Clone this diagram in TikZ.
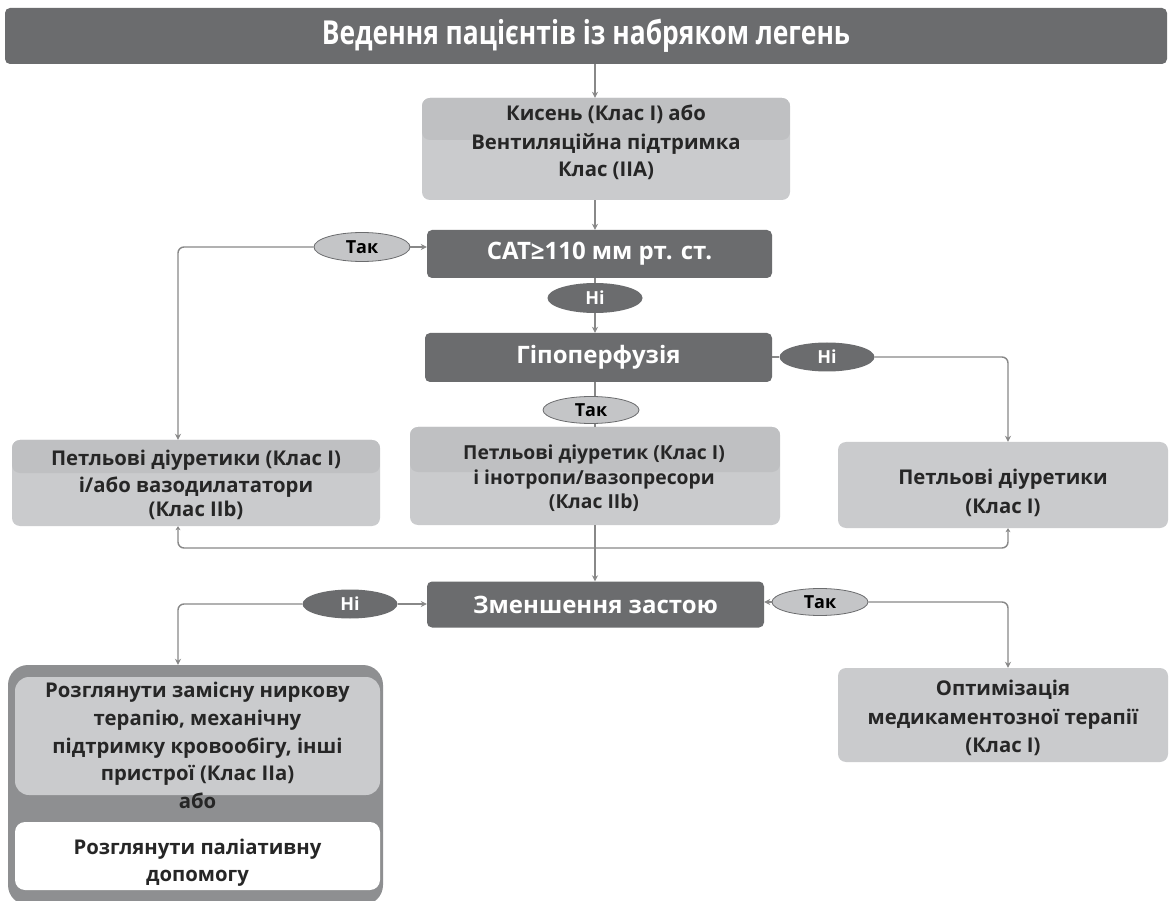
\documentclass[tikz,border=0pt]{standalone}
\usepackage{fontspec}
\setmainfont{Open Sans}
\newfontfamily\titlefont[FakeStretch=0.8]{Open Sans}
\usetikzlibrary{shapes.geometric,arrows.meta,calc}
\definecolor{dkgray}{HTML}{6B6C6E}
\definecolor{ltgray}{HTML}{CACBCD}
\definecolor{topgray}{HTML}{BFC0C2}
\definecolor{midgray}{HTML}{8E8F91}
\definecolor{elgray}{HTML}{C4C5C7}
\definecolor{lngray}{HTML}{888888}
\tikzset{
  darkbox/.style={rectangle, rounded corners=5pt, fill=dkgray, text=white,
    font=\bfseries\fontsize{24}{28}\selectfont, inner sep=0pt},
  lightbox/.style={rectangle, rounded corners=8pt, fill=ltgray, inner sep=0pt},
  topband/.style={path picture={\fill[topgray] (path picture bounding box.north west) rectangle ([yshift=-#1]path picture bounding box.north east);}},
  txt/.style={anchor=base, inner sep=0pt, font=\bfseries\fontsize{20.3}{24}\selectfont, text=black!85},
  yesell/.style={ellipse, fill=elgray, draw=dkgray, line width=0.8pt, minimum width=96pt,
    minimum height=29pt, font=\bfseries\fontsize{18}{20}\selectfont, inner sep=0pt},
  noell/.style={ellipse, fill=dkgray, text=white, minimum width=95pt,
    minimum height=29pt, font=\bfseries\fontsize{18}{20}\selectfont, inner sep=0pt},
  conn/.style={draw=lngray, line width=1.4pt, rounded corners=6pt},
  arr/.style={conn, -{Stealth[length=6pt,width=6pt]}},
  backarr/.style={conn, {Stealth[length=4pt,width=5pt]}-},
}
\begin{document}
\begin{tikzpicture}[x=1pt,y=-1pt]
\useasboundingbox[fill=white] (0,0) rectangle (1171,901);
% title
\node[darkbox, minimum width=1162pt, minimum height=56pt, font=\titlefont\bfseries\fontsize{33}{36}\selectfont] (title) at (586,36) {Ведення пацієнтів із набряком легень};
% oxygen box
\node[lightbox, topband=42pt, minimum width=368pt, minimum height=102pt] (box1) at (606,149) {};
\node[txt] (b1a) at (606,121) {Кисень (Клас І) або};
\node[txt] (b1b) at (606,150) {Вентиляційна підтримка};
\node[txt] (b1c) at (606,177) {Клас (IIА)};
% decision boxes and ellipses
\node[darkbox, minimum width=345pt, minimum height=48pt] (cat) at (599.5,254) {САТ≥110 мм рт. ст.};
\node[yesell] (e1) at (362,247) {Так};
\node[noell, minimum height=30pt] (n1) at (595,298) {Ні};
\node[darkbox, minimum width=347pt, minimum height=49pt] (hyp) at (598.5,357.5) {Гіпоперфузія};
\node[noell] (n2) at (827,357) {Ні};
\node[yesell, minimum height=27pt] (t2) at (591,410) {Так};
% treatment boxes
\node[lightbox, topband=33pt, minimum width=368pt, minimum height=86pt] (bl) at (196,483) {};
\node[txt] (bla) at (196,465) {Петльові діуретики (Клас І)};
\node[txt] (blb) at (196,492) {і/або вазодилататори};
\node[txt] (blc) at (196,516) {(Клас IIb)};
\node[lightbox, topband=45pt, minimum width=370pt, minimum height=98pt] (bm) at (595,476) {};
\node[txt, font=\bfseries\fontsize{19.3}{24}\selectfont] (bma) at (594,460) {Петльові діуретик (Клас І)};
\node[txt, font=\bfseries\fontsize{19.3}{24}\selectfont] (bmb) at (594,485) {і інотропи/вазопресори};
\node[txt, font=\bfseries\fontsize{19.3}{24}\selectfont] (bmc) at (594,508) {(Клас IIb)};
\node[lightbox, minimum width=330pt, minimum height=86pt] (br) at (1003,485) {};
\node[txt] (bra) at (1003,484) {Петльові діуретики};
\node[txt] (brb) at (1003,513) {(Клас І)};
% congestion decision
\node[darkbox, minimum width=337pt, minimum height=46pt] (red) at (595.5,604.5) {Зменшення застою};
\node[noell] (n3) at (350,604) {Ні};
\node[yesell, minimum height=27pt] (t3) at (820,602) {Так};
% bottom-left composite box
\node[rectangle, rounded corners=20pt, fill=midgray, minimum width=375pt, minimum height=240pt, inner sep=0pt] (outer) at (195.5,785) {};
\node[lightbox, rounded corners=14pt, minimum width=365pt, minimum height=118pt] (in1) at (197.5,736) {};
\node[txt] (in1a) at (197.5,697) {Розглянути замісну ниркову};
\node[txt] (in1b) at (197.5,725) {терапію, механічну};
\node[txt] (in1c) at (197.5,753) {підтримку кровообігу, інші};
\node[txt] (in1d) at (197.5,780) {пристрої (Клас IIa)};
\node[txt] (abo) at (197.5,808) {або};
\node[lightbox, fill=white, rounded corners=10pt, minimum width=365pt, minimum height=68pt] (in2) at (197.5,856) {};
\node[txt] (in2a) at (197.5,854) {Розглянути паліативну};
\node[txt] (in2b) at (197.5,881) {допомогу};
% bottom-right box
\node[lightbox, minimum width=330pt, minimum height=94pt] (opt) at (1003,715) {};
\node[txt] (opta) at (1003,695) {Оптимізація};
\node[txt] (optb) at (1003,724) {медикаментозної терапії};
\node[txt] (optc) at (1003,752) {(Клас І)};
% guide coordinates
\coordinate (xl) at (178,0);
\coordinate (xr) at (1008,0);
\coordinate (j) at (595,548);
% connectors
\draw[arr] (title.south -| n1) -- (box1.north -| n1);
\draw[arr] (box1.south -| n1) -- (cat.north -| n1);
\draw[conn] (cat.south -| n1) -- (n1.north);
\draw[arr] (n1.south) -- (hyp.north -| n1);
\draw[arr] (e1.east) -- (cat.west |- e1);
\draw[arr] (e1.west) -| (bl.north -| xl);
\draw[conn] (hyp.east |- n2) -- (n2.west);
\draw[arr] (n2.east) -| (br.north -| xr);
\draw[conn] (hyp.south -| n1) -- (t2.north -| n1);
\draw[conn] (t2.south -| n1) -- (bm.north -| n1);
\draw[backarr] (bl.south -| xl) |- (j);
\draw[backarr] (br.south -| xr) |- (j);
\draw[backarr, -{Stealth[length=6pt,width=6pt]}] (bm.south -| n1) -- (red.north -| n1);
\draw[arr] (n3.east) -- (red.west |- n3);
\draw[arr] (n3.west) -| (outer.north -| xl);
\draw[arr] (t3.west) -- (red.east |- t3);
\draw[arr] (t3.east) -| (opt.north -| xr);
\end{tikzpicture}
\end{document}
